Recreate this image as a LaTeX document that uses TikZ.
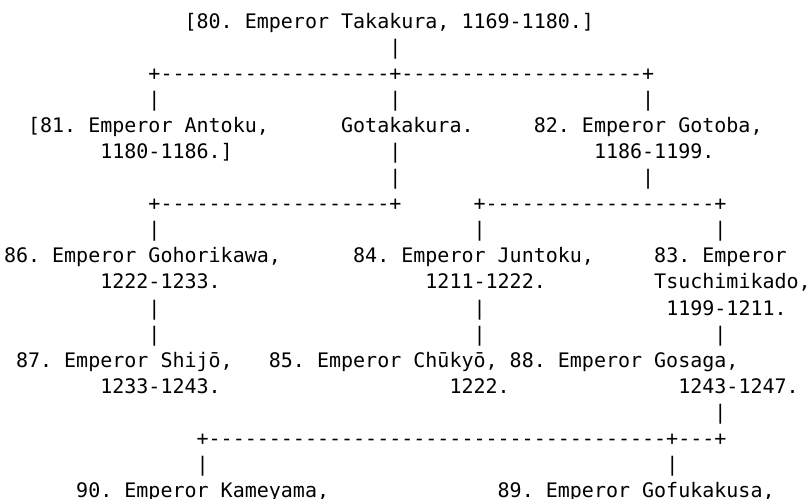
\documentclass[tikz,border=0pt]{standalone}
\usepackage{fontspec}
\setmonofont{DejaVu Sans Mono}
\tikzset{ascii/.style={anchor=base west,inner sep=0pt,outer sep=0pt,
    font=\ttfamily\fontsize{15pt}{18pt}\selectfont}}
\newcommand\dashrun[1]{\foreach \i in {1,...,#1}{-}}
\begin{document}
\begin{tikzpicture}[x=9.0308pt,y=-19.5525pt]
      \useasboundingbox[fill=white] (-3pt,21.225pt) rectangle (603pt,-353.025pt);

      \path (15,0) node[ascii] (takakura) {[80. Emperor Takakura, 1169-1180.]};
      \path (32,1) node[ascii] (v1) {|};
      \path (12,2) node[ascii] (h1) {+\dashrun{19}+\dashrun{20}+};
      \path (12,3) node[ascii] (v2) {|};
      \path (32,3) node[ascii] (v3) {|};
      \path (53,3) node[ascii] (v4) {|};

      \path (2,4)  node[ascii] (antoku) {[81. Emperor Antoku,};
      \path (28,4) node[ascii] (gotakakura) {Gotakakura.};
      \path (44,4) node[ascii] (gotoba) {82. Emperor Gotoba,};
      \path (8,5)  node[ascii] (antoku-y) {1180-1186.]};
      \path (32,5) node[ascii] (v5) {|};
      \path (49,5) node[ascii] (gotoba-y) {1186-1199.};
      \path (32,6) node[ascii] (v6) {|};
      \path (53,6) node[ascii] (v7) {|};
      \path (12,7) node[ascii] (h2) {+\dashrun{19}+};
      \path (39,7) node[ascii] (h3) {+\dashrun{19}+};
      \path (12,8) node[ascii] (v8) {|};
      \path (39,8) node[ascii] (v9) {|};
      \path (59,8) node[ascii] (v10) {|};

      \path (0,9)   node[ascii] (gohorikawa) {86. Emperor Gohorikawa,};
      \path (29,9)  node[ascii] (juntoku) {84. Emperor Juntoku,};
      \path (54,9)  node[ascii] (tsuchimikado) {83. Emperor};
      \path (8,10)  node[ascii] (gohorikawa-y) {1222-1233.};
      \path (35,10) node[ascii] (juntoku-y) {1211-1222.};
      \path (54,10) node[ascii] (tsuchimikado-n) {Tsuchimikado,};
      \path (12,11) node[ascii] (v11) {|};
      \path (39,11) node[ascii] (v12) {|};
      \path (55,11) node[ascii] (tsuchimikado-y) {1199-1211.};
      \path (12,12) node[ascii] (v13) {|};
      \path (39,12) node[ascii] (v14) {|};
      \path (59,12) node[ascii] (v15) {|};

      \path (1,13)  node[ascii] (shijo) {87. Emperor Shijō,};
      \path (22,13) node[ascii] (chukyo) {85. Emperor Chūkyō,};
      \path (42,13) node[ascii] (gosaga) {88. Emperor Gosaga,};
      \path (8,14)  node[ascii] (shijo-y) {1233-1243.};
      \path (37,14) node[ascii] (chukyo-y) {1222.};
      \path (56,14) node[ascii] (gosaga-y) {1243-1247.};
      \path (59,15) node[ascii] (v16) {|};
      \path (16,16) node[ascii] (h4) {+\dashrun{38}+\dashrun{3}+};
      \path (16,17) node[ascii] (v17) {|};
      \path (55,17) node[ascii] (v18) {|};

      \path (6,18)  node[ascii] (kameyama) {90. Emperor Kameyama,};
      \path (41,18) node[ascii] (gofukakusa) {89. Emperor Gofukakusa,};
   \end{tikzpicture}
\end{document}
